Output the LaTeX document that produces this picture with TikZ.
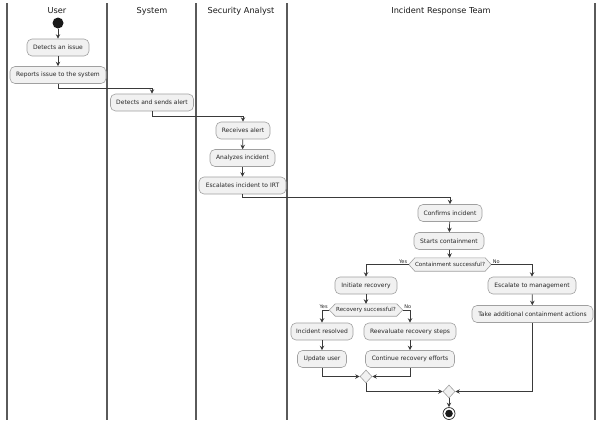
\documentclass[tikz,border=0pt]{standalone}
\usepackage{fontspec}
\setmainfont{DejaVu Sans}
\usetikzlibrary{arrows.meta,calc,shapes.geometric,backgrounds}
\definecolor{boxfill}{HTML}{F1F1F1}
\definecolor{boxline}{HTML}{A0A0A0}
\definecolor{lineclr}{HTML}{3A3A3A}
\definecolor{lanegray}{HTML}{5A5A5A}
\begin{document}
\begin{tikzpicture}[x=1pt,y=-1pt,
 act/.style={draw=boxline, fill=boxfill, rounded corners=5pt, minimum height=17pt, inner xsep=3pt, inner ysep=0pt, font=\fontsize{6}{7}\selectfont, line width=0.6pt, text=black!85},
 dec/.style={minimum height=13pt, inner sep=0pt, font=\fontsize{5.6}{6.5}\selectfont, text=black!85},
 merge/.style={diamond, draw=boxline, fill=boxfill, line width=0.6pt, minimum width=12pt, minimum height=13pt, inner sep=0pt},
 flow/.style={draw=lineclr, line width=0.7pt, -{Stealth[length=4.5pt,width=4.5pt,inset=1.5pt]}},
 lane/.style={draw=lanegray, line width=1.1pt},
 hdr/.style={font=\fontsize{8.2}{9}\selectfont, text=black!90},
 lbl/.style={font=\fontsize{5}{6}\selectfont, inner sep=0.5pt, text=black!85}
]
\useasboundingbox (0,0) rectangle (601,423);

% lanes
\foreach \x in {7,107,196,287,595} \draw[lane] (\x,3) -- (\x,420);
\node[hdr] (h1) at (57,11) {User};
\node[hdr] (h2) at (152,11) {System};
\node[hdr] (h3) at (241,11) {Security Analyst};
\node[hdr] (h4) at (441,11) {Incident Response Team};

% nodes
\node[circle, fill=black!90, minimum size=11pt, inner sep=0pt] (start) at (58,23) {};
\node[act, minimum width=62pt] (a1) at (58,47.5) {Detects an issue};
\node[act, minimum width=96pt] (a2) at (58,75) {Reports issue to the system};
\node[act, minimum width=83pt] (a3) at (152,102.5) {Detects and sends alert};
\node[act, minimum width=54pt] (a4) at (243,130.5) {Receives alert};
\node[act, minimum width=65pt] (a5) at (242.5,158) {Analyzes incident};
\node[act, minimum width=87pt] (a6) at (242.5,185.5) {Escalates incident to IRT};
\node[act, minimum width=64pt] (a7) at (450,213) {Confirms incident};
\node[act, minimum width=70pt] (a8) at (449,241) {Starts containment};
\node[dec, minimum width=82pt] (d1) at (450,264.5) {Containment successful?};
\node[act, minimum width=62pt] (a9) at (366,285.5) {Initiate recovery};
\node[act, minimum width=88pt] (a10) at (532,285.5) {Escalate to management};
\node[act, minimum width=121pt] (a11) at (532.5,314) {Take additional containment actions};
\node[dec, minimum width=73pt, minimum height=12pt] (d2) at (366,310) {Recovery successful?};
\node[act, minimum width=62pt] (a12) at (322,331.5) {Incident resolved};
\node[act, minimum width=92pt] (a13) at (410,331.5) {Reevaluate recovery steps};
\node[act, minimum width=49pt] (a14) at (322,359) {Update user};
\node[act, minimum width=89pt] (a15) at (410,359) {Continue recovery efforts};
\node[merge] (m1) at (366,376.5) {};
\node[merge] (m2) at (449,391.5) {};
\node[circle, draw=black!85, fill=white, minimum size=12pt, inner sep=0pt, line width=0.7pt] (end) at (449,413.5) {};
\fill[black!90] (end.center) circle (3.8pt);

% hexagons behind decision texts
\begin{scope}[on background layer]
\fill[white] (0,0) rectangle (601,423);
\foreach \d in {d1,d2}
  \draw[draw=boxline, fill=boxfill, line width=0.6pt]
    (\d.west) -- ($(\d.north west)+(6,0)$) -- ($(\d.north east)+(-6,0)$) -- (\d.east)
    -- ($(\d.south east)+(-6,0)$) -- ($(\d.south west)+(6,0)$) -- cycle;
\end{scope}

% connectors
\draw[flow] (start) -- (a1);
\draw[flow] (a1) -- (a2);
\draw[flow] (a2.south) -- ++(0,5) -| (a3.north);
\draw[flow] (a3.south) -- ++(0,5) -| (a4.north);
\draw[flow] (a4) -- (a5);
\draw[flow] (a5) -- (a6);
\draw[flow] (a6.south) -- ++(0,3) -| (a7.north);
\draw[flow] (a7) -- (a8);
\draw[flow] (a8) -- (d1);
\draw[flow] (d1.west) -| (a9.north);
\draw[flow] (d1.east) -| (a10.north);
\draw[flow] (a9) -- (d2);
\draw[flow] (a10) -- (a11);
\draw[flow] (d2.west) -| (a12.north);
\draw[flow] (d2.east) -| (a13.north);
\draw[flow] (a12) -- (a14);
\draw[flow] (a13) -- (a15);
\draw[flow] (a14.south) |- (m1.west);
\draw[flow] (a15.south) |- (m1.east);
\draw[flow] (m1.south) |- (m2.west);
\draw[flow] (a11.south) |- (m2.east);
\draw[flow] (m2) -- (end);

% branch labels
\node[lbl, anchor=south east] (y1) at ($(d1.west)+(-1,-0.5)$) {Yes};
\node[lbl, anchor=south west] (n1) at ($(d1.east)+(1,-0.5)$) {No};
\node[lbl, anchor=south east] (y2) at ($(d2.west)+(-1,-0.5)$) {Yes};
\node[lbl, anchor=south west] (n2) at ($(d2.east)+(1,-0.5)$) {No};
\end{tikzpicture}
\end{document}
